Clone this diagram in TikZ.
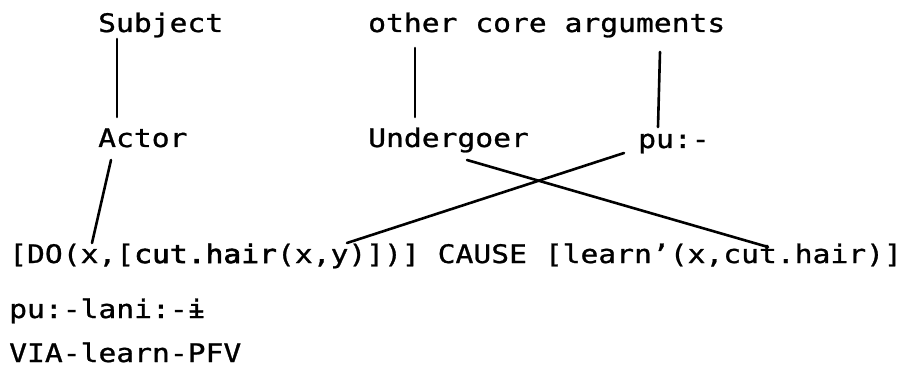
\documentclass[tikz,border=0pt]{standalone}
\usepackage{fontspec}
\setmonofont[FakeStretch=1.163,FakeBold=1.0]{DejaVu Sans Mono}
\newfontfamily\heavymono[FakeStretch=1.163,FakeBold=2.6]{DejaVu Sans Mono}
\usetikzlibrary{calc}
\begin{document}
\begin{tikzpicture}[x=1pt,y=-1pt,
  lbl/.style={inner sep=0pt, anchor=base west, font=\fontsize{25.5}{28}\selectfont\ttfamily},
  link/.style={line width=2.6pt, line cap=round}]
\useasboundingbox (0,0) rectangle (905,390);

% grammatical relations
\node[lbl] (subj) at (98,32)  {Subject};
\node[lbl] (core) at (368,32) {other core arguments};

% macroroles and the applicative prefix
\node[lbl] (actor) at (98,147)  {Actor};
\node[lbl] (under) at (368,147) {Undergoer};
\node[lbl] (pu)    at (638,148) {pu:-};

% logical structure, form and gloss
\node[lbl] (lsr)   at (9,263) {[DO(x,[{\heavymono cut.hair}(x,y)])] CAUSE [learn’(x,cut.hair)]};
\node[lbl] (morph) at (9,318) {pu:-lani:-ɨ};
\node[lbl] (gloss) at (9,362) {VIA-learn-PFV};

% linking lines
\draw[link] ($(subj.base west)+(19,7)$)   -- ($(actor.base west)+(19,-30)$);
\draw[link] ($(core.base west)+(47,16)$)  -- ($(under.base west)+(47,-30)$);
\draw[link] ($(core.base west)+(292,20)$) -- ($(pu.base west)+(20,-21)$);
\draw[link] ($(actor.base west)+(13,13)$) -- ($(lsr.base west)+(83,-20)$);
\draw[link] ($(pu.base west)+(-14,5)$)    -- ($(lsr.base west)+(338,-20)$);
\draw[link] ($(under.base west)+(99,13)$) -- ($(lsr.base west)+(759,-16)$);
\end{tikzpicture}
\end{document}
